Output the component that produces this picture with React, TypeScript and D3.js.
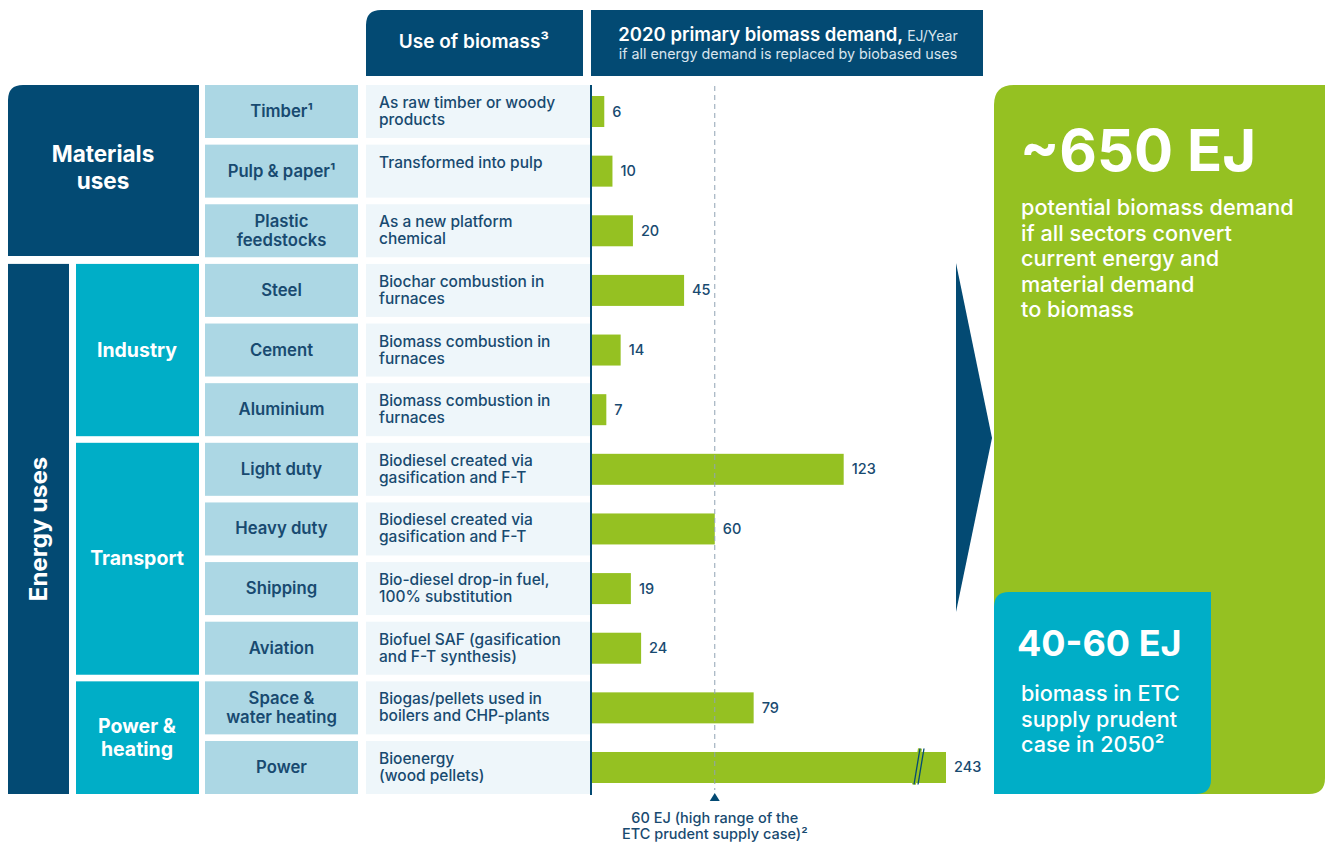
import * as d3 from 'd3';

// categories & values
const sectors = ['Timber¹', 'Pulp & paper¹', 'Plastic|feedstocks', 'Steel', 'Cement', 'Aluminium', 'Light duty', 'Heavy duty', 'Shipping', 'Aviation', 'Space &|water heating', 'Power'];
const uses = [
  'As raw timber or woody|products',
  'Transformed into pulp',
  'As a new platform|chemical',
  'Biochar combustion in|furnaces',
  'Biomass combustion in|furnaces',
  'Biomass combustion in|furnaces',
  'Biodiesel created via|gasification and F-T',
  'Biodiesel created via|gasification and F-T',
  'Bio-diesel drop-in fuel,|100% substitution',
  'Biofuel SAF (gasification|and F-T synthesis)',
  'Biogas/pellets used in|boilers and CHP-plants',
  'Bioenergy|(wood pellets)'
];
const demand = [6, 10, 20, 45, 14, 7, 123, 60, 19, 24, 79, 243];
const groups = [
  { label: 'Industry', from: 3, to: 5 },
  { label: 'Transport', from: 6, to: 9 },
  { label: 'Power &|heating', from: 10, to: 11 }
];
const supplyHigh = 60;
const axisCap = 173; // bars beyond this are drawn with a break

const NAVY = '#034a73';
const TEAL = '#00aec7';
const LIGHT = '#acd7e4';
const PALE = '#eef6fa';
const GREEN = '#95c122';
const TXT = '#184a70';
const FONT = 'Inter, "Noto Sans", sans-serif';

const W = 1330;
const H = 845;

// rounded rect path: tl / br radius
function rr(x: number, y: number, w: number, h: number, tl: number, br: number) {
  return `M${x},${y + tl} Q${x},${y} ${x + tl},${y} L${x + w},${y} L${x + w},${y + h - br} Q${x + w},${y + h} ${x + w - br},${y + h} L${x},${y + h} Z`;
}

export default function App() {
  const y = d3.scaleBand<number>().domain(d3.range(sectors.length)).range([85, 794]).paddingInner(0.111).paddingOuter(0);
  const x = d3.scaleLinear().domain([0, axisCap]).range([592, 946]).clamp(true);
  const bh = 31;

  const lines = (s: string) => s.split('|');

  return (
    <svg width={W} height={H} style={{ position: 'absolute', left: 0, top: 0, fontFamily: FONT }}>
      <rect width={W} height={H} fill="#fff" />

      {/* headers */}
      <path d={rr(366, 10, 217, 66, 15, 0)} fill={NAVY} />
      <text x={474} y={48} textAnchor="middle" fill="#fff" fontSize={19} fontWeight={600}>Use of biomass³</text>
      <rect x={591} y={10} width={392} height={66} fill={NAVY} />
      <text x={788} y={41} textAnchor="middle" fill="#fff">
        <tspan fontSize={18.5} fontWeight={600}>2020 primary biomass demand,</tspan>
        <tspan fontSize={14} fill="#d9e5ef"> EJ/Year</tspan>
      </text>
      <text x={788} y={59} textAnchor="middle" fill="#d9e5ef" fontSize={14.3}>if all energy demand is replaced by biobased uses</text>

      {/* top-level groups */}
      <path d={rr(8, 85, 191, 171, 15, 0)} fill={NAVY} />
      <text x={103} y={162} textAnchor="middle" fill="#fff" fontSize={22.5} fontWeight={700}>
        <tspan x={103}>Materials</tspan>
        <tspan x={103} dy={27}>uses</tspan>
      </text>
      <rect x={8} y={y(3)!} width={61} height={794 - y(3)!} fill={NAVY} />
      <text transform={`translate(47,${(y(3)! + 794) / 2}) rotate(-90)`} textAnchor="middle" fill="#fff" fontSize={24} fontWeight={700}>Energy uses</text>

      {groups.map((g) => {
        const top = y(g.from)!;
        const bot = y(g.to)! + y.bandwidth();
        const ls = lines(g.label);
        const cy = (top + bot) / 2;
        return (
          <g key={g.label}>
            <rect x={76} y={top} width={123} height={bot - top} fill={TEAL} />
            <text x={137} y={cy + 6.5 - ((ls.length - 1) / 2) * 23} textAnchor="middle" fill="#fff" fontSize={19.5} fontWeight={700}>
              {ls.map((l, i) => (
                <tspan key={i} x={137} dy={i === 0 ? 0 : 23}>{l}</tspan>
              ))}
            </text>
          </g>
        );
      })}

      {/* rows */}
      {sectors.map((s, i) => {
        const top = y(i)!;
        const cy = top + y.bandwidth() / 2;
        const sl = lines(s);
        const ul = lines(uses[i]);
        const v = demand[i];
        const broken = v > axisCap;
        const xe = x(v);
        return (
          <g key={i}>
            <rect x={205} y={top} width={153} height={y.bandwidth()} fill={LIGHT} />
            <text x={281.5} y={cy + 5.5 - ((sl.length - 1) / 2) * 19} textAnchor="middle" fill={TXT} fontSize={16.7} fontWeight={600}>
              {sl.map((l, k) => (
                <tspan key={k} x={281.5} dy={k === 0 ? 0 : 19}>{l}</tspan>
              ))}
            </text>
            <rect x={366} y={top} width={224} height={y.bandwidth()} fill={PALE} />
            <text x={379} y={top + 23} fill={TXT} fontSize={15.5} fontWeight={500}>
              {ul.map((l, k) => (
                <tspan key={k} x={379} dy={k === 0 ? 0 : 17}>{l}</tspan>
              ))}
            </text>
            <rect x={x(0)} y={cy - bh / 2} width={xe - x(0)} height={bh} fill={GREEN} />
            {broken && (
              <g stroke={NAVY} strokeWidth={1.3}>
                <line x1={xe - 32} y1={cy + 17} x2={xe - 26} y2={cy - 19} stroke={GREEN} strokeWidth={4} />
                <line x1={xe - 32} y1={cy + 17} x2={xe - 26} y2={cy - 19} />
                <line x1={xe - 28} y1={cy + 17} x2={xe - 22} y2={cy - 19} />
              </g>
            )}
            <text x={xe + 8} y={cy + 5} fill={TXT} fontSize={14.5} fontWeight={500}>{v}</text>
          </g>
        );
      })}

      {/* axis + 60 EJ reference */}
      <line x1={x(supplyHigh)} x2={x(supplyHigh)} y1={86} y2={790} stroke="#8fa3b3" strokeWidth={1} strokeDasharray="5,4" />
      <line x1={591} x2={591} y1={85} y2={795} stroke={NAVY} strokeWidth={2} />
      <path d={`M${x(supplyHigh)},793 L${x(supplyHigh) + 5},801 L${x(supplyHigh) - 5},801 Z`} fill={NAVY} />
      <text x={x(supplyHigh)} y={823} textAnchor="middle" fill={TXT} fontSize={14.5} fontWeight={500}>
        <tspan x={x(supplyHigh)}>60 EJ (high range of the</tspan>
        <tspan x={x(supplyHigh)} dy={16}>ETC prudent supply case)²</tspan>
      </text>

      {/* arrow */}
      <path d="M956,263 L992,438 L956,612 Z" fill={NAVY} />

      {/* summary panels */}
      <path d={rr(994, 85, 331, 709, 20, 16)} fill={GREEN} />
      <text x={1020} y={171} fill="#fff" fontSize={58} fontWeight={700}>~650 EJ</text>
      <text x={1021} y={215} fill="#fff" fontSize={21.7} fontWeight={500}>
        {['potential biomass demand', 'if all sectors convert', 'current energy and', 'material demand', 'to biomass'].map((l, i) => (
          <tspan key={i} x={1021} dy={i === 0 ? 0 : 25.5}>{l}</tspan>
        ))}
      </text>
      <path d={rr(994, 592, 217, 202, 15, 15)} fill={TEAL} />
      <text x={1017} y={656} fill="#fff" fontSize={36} fontWeight={700}>40-60 EJ</text>
      <text x={1021} y={701} fill="#fff" fontSize={21.6} fontWeight={500}>
        {['biomass in ETC', 'supply prudent', 'case in 2050²'].map((l, i) => (
          <tspan key={i} x={1021} dy={i === 0 ? 0 : 25.5}>{l}</tspan>
        ))}
      </text>
    </svg>
  );
}
